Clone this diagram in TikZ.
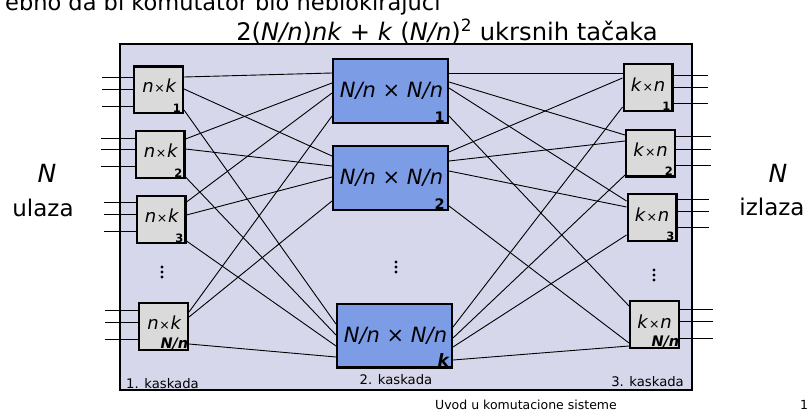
\documentclass[tikz,border=0pt]{standalone}
\usepackage{fontspec}
\setmainfont{DejaVu Sans}
\definecolor{panelfill}{RGB}{215,215,236}
\definecolor{switchgray}{RGB}{218,218,218}
\definecolor{switchblue}{RGB}{124,156,230}
\newcommand{\smalltimes}{\kern0.8pt{\fontsize{12.5}{12.5}\selectfont×}\kern0.8pt}
\tikzset{
  frame/.style={draw=black, line width=2pt, fill=panelfill, inner sep=0pt,
    minimum width=572pt, minimum height=346pt},
  edgesw/.style={draw=black, line width=2.4pt, fill=switchgray, inner sep=0pt,
    minimum width=48.6pt, minimum height=46.6pt},
  coresw/.style={draw=black, line width=2.4pt, fill=switchblue, inner sep=0pt,
    minimum width=114.6pt, minimum height=63.6pt},
  link/.style={draw=black, line width=0.9pt},
  edgelabel/.style={inner sep=0pt, font=\fontsize{18}{18}\selectfont},
  corelabel/.style={inner sep=0pt, font=\fontsize{21}{21}\selectfont},
  edgeidx/.style={inner sep=0pt, anchor=south east, font=\bfseries\fontsize{11.5}{11.5}\selectfont},
  coreidx/.style={inner sep=0pt, anchor=south east, font=\bfseries\fontsize{14.5}{14.5}\selectfont},
  stage/.style={inner sep=0pt, font=\fontsize{13.2}{13.2}\selectfont},
  side/.style={inner sep=0pt, font=\fontsize{23}{23}\selectfont},
  bigN/.style={inner sep=0pt, font=\itshape\fontsize{25}{25}\selectfont},
}
\begin{document}
\begin{tikzpicture}[x=1pt, y=-1pt]
  \fill[white] (0,0) rectangle (810,417);
  \useasboundingbox (0,0) rectangle (810,417);

  % heading lines (the first one runs off the top edge)
  \node[anchor=base west, inner sep=0pt, font=\fontsize{22.5}{22.5}\selectfont] (lead) at (5,11)
    {ebno da bi komutator bio neblokirajući};
  \node[anchor=base, inner sep=0pt, font=\fontsize{24.2}{24.2}\selectfont] (title) at (447,41)
    {2(\textit{N/n})\textit{nk} + \textit{k} (\textit{N/n})\textsuperscript{2} ukrsnih tačaka};

  % switching fabric panel
  \node[frame] (panel) at (406,217) {};

  % first stage
  \node[edgesw] (lb1) at (158.5,90) {};
  \node[edgesw] (lb2) at (160,154.5) {};
  \node[edgesw] (lb3) at (161,219.5) {};
  \node[edgesw] (lb4) at (163.5,326.5) {};
  % second stage
  \node[coresw] (m1) at (390.5,91) {};
  \node[coresw] (m2) at (390.5,178) {};
  \node[coresw] (mk) at (394.5,335.5) {};
  % third stage
  \node[edgesw] (rb1) at (648,87.5) {};
  \node[edgesw] (rb2) at (650.5,153) {};
  \node[edgesw] (rb3) at (652,217.5) {};
  \node[edgesw] (rb4) at (654.5,324.5) {};

  % switch labels
  \foreach \b in {lb1,lb2,lb3,lb4}
    \node[edgelabel] (\b-t) at ([xshift=1pt,yshift=4pt]\b.center) {\textit{n}\smalltimes\textit{k}};
  \foreach \b in {rb1,rb2,rb3,rb4}
    \node[edgelabel] (\b-t) at ([yshift=3pt]\b.center) {\textit{k}\smalltimes\textit{n}};
  \foreach \b in {m1,m2,mk}
    \node[corelabel] (\b-t) at ([xshift=1pt]\b.center) {\textit{N/n} × \textit{N/n}};

  \foreach \b/\n in {lb1/1,lb2/2,lb3/3,rb1/1,rb2/2,rb3/3}
    \node[edgeidx] (\b-n) at ([xshift=-3pt,yshift=1.5pt]\b.south east) {\n};
  \node[edgeidx, font=\bfseries\itshape\fontsize{14.5}{14.5}\selectfont] (lb4-n)
    at ([xshift=-0.5pt,yshift=0.5pt]lb4.south east) {N/n};
  \node[edgeidx, font=\bfseries\itshape\fontsize{14.5}{14.5}\selectfont] (rb4-n)
    at ([xshift=-0.5pt,yshift=0.5pt]rb4.south east) {N/n};
  \foreach \b/\n in {m1/1,m2/2}
    \node[coreidx] (\b-n) at ([xshift=-4pt,yshift=1.5pt]\b.south east) {\n};
  \node[coreidx, font=\bfseries\itshape\fontsize{17}{17}\selectfont] (mk-n)
    at ([xshift=-4pt,yshift=1.5pt]mk.south east) {k};

  % inputs and outputs
  \foreach \b/\x/\ya/\yb/\yc in {lb1/102/77/89/106, lb2/101/138/149/166,
                                 lb3/104/202/214/231, lb4/105/310/322/339}{
    \foreach \y [count=\i] in {\ya,\yb,\yc}{
      \coordinate (\b-in\i) at (\x,\y);
      \draw[link] (\b-in\i) -- (\b.west |- \b-in\i);
    }
  }
  \foreach \b/\x/\ya/\yb/\yc in {rb1/708/75/87/103, rb2/711/136/149/165,
                                 rb3/709/199/211/227, rb4/713/309/321/338}{
    \foreach \y [count=\i] in {\ya,\yb,\yc}{
      \coordinate (\b-out\i) at (\x,\y);
      \draw[link] (\b.east |- \b-out\i) -- (\b-out\i);
    }
  }

  % links from the first to the second stage
  \foreach \s/\ys/\t/\yt in {lb1/77/m1/73, lb1/89/m2/156, lb1/110/mk/324,
                             lb2/139/m1/83, lb2/149/m2/166, lb2/177/mk/335,
                             lb3/202/m1/93, lb3/215/m2/177, lb3/241/mk/346,
                             lb4/312/m1/116, lb4/317/m2/201, lb4/344/mk/357}
    \draw[link] (\s.east |- 0,\ys) -- (\t.west |- 0,\yt);

  % links from the second to the third stage
  \foreach \s/\ys/\t/\yt in {m1/73/rb1/73, m1/82/rb2/135, m1/88/rb3/201, m1/116/rb4/306,
                             m2/152/rb1/78, m2/161/rb2/141, m2/171/rb3/207, m2/206/rb4/343,
                             mk/327/rb1/107, mk/338/rb2/175, mk/347/rb3/235, mk/360/rb4/346}
    \draw[link] (\s.east |- 0,\ys) -- (\t.west |- 0,\yt);

  % vertical ellipses
  \foreach \x/\y in {162/267, 396/262, 654/270}
    \foreach \d in {0,5,10}
      \fill (\x,\y+\d) circle (1.6pt);

  % stage names
  \node[stage, anchor=base west] (st1) at (126,388) {1. kaskada};
  \node[stage, anchor=base] (st2) at (396,384) {2. kaskada};
  \node[stage, anchor=base east] (st3) at (684,386) {3. kaskada};

  % side captions
  \node[bigN] (inN) at (47,173) {N};
  \node[side] (inW) at (43,208) {ulaza};
  \node[bigN] (outN) at (778,173) {N};
  \node[side] (outW) at (772,207) {izlaza};

  % footer
  \node[anchor=base, inner sep=0pt, font=\fontsize{12.5}{12.5}\selectfont] (foot) at (526,409)
    {Uvod u komutacione sisteme};
  \node[anchor=base west, inner sep=0pt, font=\fontsize{12.5}{12.5}\selectfont] (page) at (800,409) {1};
\end{tikzpicture}
\end{document}
